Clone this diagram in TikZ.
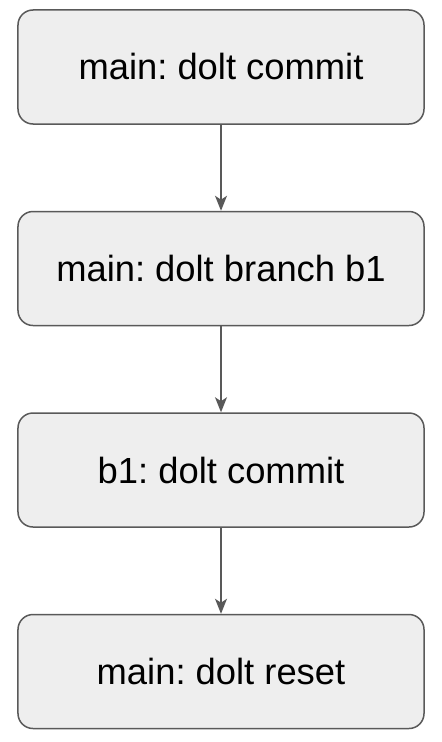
\documentclass[tikz,border=0pt]{standalone}
\usepackage{fontspec}
\setmainfont{Liberation Sans}
\usepackage{xcolor}
\usetikzlibrary{positioning,arrows.meta}
\definecolor{boxfill}{HTML}{EEEEEE}
\definecolor{boxline}{HTML}{595959}
\frenchspacing

\begin{document}
\begin{tikzpicture}[x=1bp,y=1bp,
    cmdbox/.style={draw=boxline, fill=boxfill, line width=1.5bp, rounded corners=15bp,
        minimum width=406bp, minimum height=114bp, inner sep=0pt,
        font=\fontsize{36.5}{42}\selectfont},
    flow/.style={draw=boxline, line width=1.5bp, -{Stealth[length=15bp,width=12bp,inset=4bp]}},
    node distance=87.5bp]
    \useasboundingbox (0,0) rectangle (442,-742);

    \node[cmdbox] (commit) at (221,-67) {main: dolt commit};
    \node[cmdbox, below=86bp of commit] (branch) {main: dolt branch b1};
    \node[cmdbox, below=86bp of branch] (bcommit) {b1: dolt commit};
    \node[cmdbox, below=86bp of bcommit] (reset) {main: dolt reset};

    \draw[flow] (commit) -- (branch);
    \draw[flow] (branch) -- (bcommit);
    \draw[flow] (bcommit) -- (reset);
\end{tikzpicture}
\end{document}
